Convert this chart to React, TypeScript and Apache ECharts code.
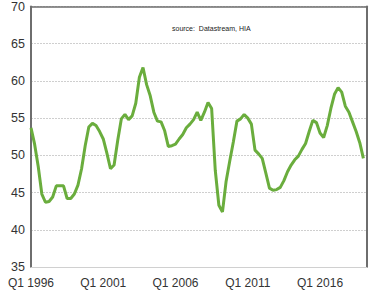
import React, { useEffect, useRef } from "react";
import * as echarts from "echarts";

const startYear = 1996;
const quarterCount = 94;
const categories: string[] = [];
for (let i = 0; i < quarterCount; i++) {
  categories.push(`Q${(i % 4) + 1} ${startYear + Math.floor(i / 4)}`);
}

const values: number[] = [
  53.7, 51.5, 48.5, 44.8, 43.7, 43.8, 44.4, 45.9, 45.9, 45.9,
  44.2, 44.2, 44.8, 46.0, 48.2, 51.3, 53.8, 54.3, 54.0, 53.2,
  52.2, 50.3, 48.2, 48.7, 52.0, 54.9, 55.5, 54.8, 55.3, 57.0,
  60.5, 61.8, 59.5, 58.0, 55.8, 54.6, 54.5, 53.3, 51.2, 51.3,
  51.5, 52.2, 52.8, 53.7, 54.2, 54.8, 55.8, 54.7, 55.8, 57.1,
  56.3, 48.0, 43.3, 42.4, 46.5, 49.2, 51.8, 54.6, 54.9, 55.5,
  55.0, 54.2, 50.7, 50.2, 49.6, 47.6, 45.6, 45.3, 45.4, 45.7,
  46.6, 47.8, 48.7, 49.4, 49.9, 50.8, 51.6, 53.2, 54.7, 54.4,
  53.0, 52.4, 54.0, 56.3, 58.2, 59.1, 58.5, 56.6, 55.8, 54.5,
  53.2, 51.7, 49.6,
];

const yMin = 35;
const yMax = 70;
const yStep = 5;
const sourceText = "source:  Datastream, HIA";

export default function App() {
  const ref = useRef<HTMLDivElement>(null);
  useEffect(() => {
    if (!ref.current) return;
    const chart = echarts.init(ref.current, null, { renderer: "svg" });
    const font = "Liberation Sans, Arial, sans-serif";
    chart.setOption({
      animation: false,
      grid: { left: 31, right: 25, top: 3, bottom: 30 },
      xAxis: [
        {
          type: "category",
          data: categories,
          boundaryGap: false,
          axisLine: { show: true, lineStyle: { color: "#d0d0d0", width: 1 } },
          axisTick: { show: false },
          axisLabel: {
            interval: 19,
            color: "#333",
            fontSize: 12,
            fontFamily: font,
            margin: 10,
          },
          splitLine: { show: false },
        },
        {
          type: "category",
          data: categories,
          position: "top",
          boundaryGap: false,
          axisLine: { show: true, lineStyle: { color: "#6e6e6e", width: 1.5 } },
          axisTick: { show: false },
          axisLabel: { show: false },
        },
      ],
      yAxis: [
        {
          type: "value",
          min: yMin,
          max: yMax,
          interval: yStep,
          axisLine: { show: true, lineStyle: { color: "#6e6e6e", width: 2 } },
          axisTick: { show: false },
          axisLabel: {
            color: "#333",
            fontSize: 12.5,
            fontFamily: font,
            margin: 6,
          },
          splitLine: {
            show: true,
            lineStyle: { color: "#cfcfcf", type: [2, 1], width: 1 },
          },
        },
        {
          type: "value",
          position: "right",
          min: yMin,
          max: yMax,
          interval: yStep,
          axisLine: { show: true, lineStyle: { color: "#6e6e6e", width: 2 } },
          axisTick: { show: false },
          axisLabel: { show: false },
          splitLine: { show: false },
        },
      ],
      graphic: [
        {
          type: "text",
          left: 172,
          top: 25,
          style: {
            text: sourceText,
            fill: "#222",
            fontSize: 7,
            fontFamily: font,
          },
        },
      ],
      series: [
        {
          type: "line",
          data: values,
          xAxisIndex: 0,
          yAxisIndex: 0,
          showSymbol: false,
          symbol: "none",
          lineStyle: { color: "#6aad3d", width: 3 },
        },
      ],
    });
    return () => chart.dispose();
  }, []);
  return <div ref={ref} style={{ width: 392, height: 297, position: "absolute", left: 0, top: 0 }} />;
}
